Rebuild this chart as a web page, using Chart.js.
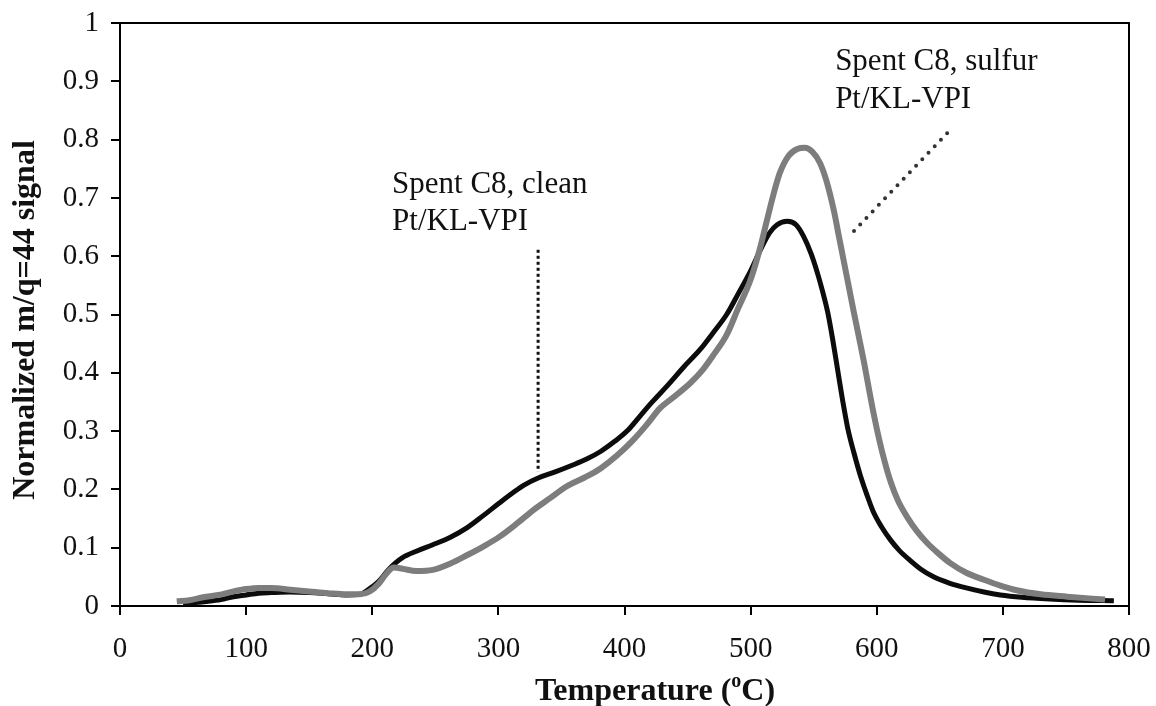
<!DOCTYPE html>
<html>
<head>
<meta charset="utf-8">
<script src="https://cdn.jsdelivr.net/npm/chart.js@4.4.1/dist/chart.umd.min.js"></script>
<style>
  html, body { margin: 0; padding: 0; background: #fff; }
</style>
</head>
<body>
<canvas id="tpoChart" width="1156" height="706"></canvas>
<script>
// tick labels
const xTickLabels = ['0', '100', '200', '300', '400', '500', '600', '700', '800'];
const yTickLabels = ['0', '0.1', '0.2', '0.3', '0.4', '0.5', '0.6', '0.7', '0.8', '0.9', '1'];

// Spent C8, clean Pt/KL-VPI (black)
const cleanTemp = [50, 60, 70, 80, 90, 100, 110, 120, 135, 150, 165, 180, 190, 198, 205, 212, 218, 224,
  235, 248, 262, 275, 288, 301, 312, 320, 332, 345, 358, 370, 381, 392, 402, 412, 422, 434, 447, 460,
  470, 481, 490, 500, 508, 515, 521, 529, 536, 542, 548, 553, 557, 561, 565, 569, 573, 577, 582, 587,
  592, 597, 604, 611, 618, 626, 635, 645, 658, 671, 685, 698, 715, 737, 760, 788];
const cleanSignal = [0.005, 0.006, 0.008, 0.011, 0.016, 0.019, 0.022, 0.023, 0.024, 0.023, 0.021, 0.019, 0.02, 0.03, 0.042, 0.06, 0.073, 0.083,
  0.094, 0.105, 0.118, 0.134, 0.155, 0.177, 0.195, 0.207, 0.22, 0.23, 0.241, 0.252, 0.265, 0.282, 0.3, 0.325, 0.35, 0.378, 0.41, 0.44,
  0.468, 0.5, 0.535, 0.575, 0.612, 0.64, 0.654, 0.66, 0.654, 0.634, 0.604, 0.571, 0.54, 0.505, 0.458, 0.405, 0.352, 0.305, 0.262, 0.224,
  0.192, 0.163, 0.135, 0.113, 0.095, 0.079, 0.063, 0.05, 0.039, 0.031, 0.024, 0.019, 0.015, 0.012, 0.01, 0.009];

// Spent C8, sulfur Pt/KL-VPI (grey)
const sulfurTemp = [45, 55, 66, 78, 90, 100, 110, 120, 135, 150, 165, 180, 190, 198, 205, 211, 217, 224,
  235, 248, 262, 275, 288, 301, 315, 328, 341, 354, 368, 381, 394, 407, 418, 428, 440, 452, 462, 471,
  481, 490, 500, 507, 513, 518, 523, 530, 537, 543, 549, 555, 560, 566, 570, 574, 578, 582, 586, 590,
  594, 598, 602, 606, 611, 617, 624, 632, 640, 649, 658, 671, 685, 698, 711, 730, 751, 781];
const sulfurSignal = [0.008, 0.01, 0.015, 0.019, 0.025, 0.029, 0.031, 0.031, 0.028, 0.025, 0.022, 0.02, 0.02, 0.025, 0.038, 0.055, 0.066, 0.064,
  0.06, 0.062, 0.073, 0.087, 0.102, 0.119, 0.142, 0.165, 0.185, 0.205, 0.22, 0.236, 0.258, 0.285, 0.312, 0.339, 0.36, 0.382, 0.405, 0.432,
  0.465, 0.51, 0.56, 0.61, 0.662, 0.705, 0.742, 0.772, 0.784, 0.786, 0.779, 0.76, 0.73, 0.678, 0.634, 0.59, 0.546, 0.502, 0.46, 0.417,
  0.37, 0.325, 0.285, 0.25, 0.213, 0.18, 0.153, 0.128, 0.108, 0.09, 0.074, 0.057, 0.045, 0.035, 0.027, 0.02, 0.016, 0.011];

// pointer lines for the two labels (data units)
const cleanPointerTemp = [331.5, 331.5];
const cleanPointerSignal = [0.611, 0.23];
const sulfurPointerTemp = [655.8, 580.5];
const sulfurPointerSignal = [0.811, 0.64];

// label text, anchored at left/baseline in data units
const labels = [
  { lines: ['Spent C8, clean', 'Pt/KL-VPI'], temp: 215.7, signal: [0.708, 0.645] },
  { lines: ['Spent C8, sulfur', 'Pt/KL-VPI'], temp: 567, signal: [0.919, 0.854] }
];

function zip(xs, ys) {
  return xs.map((x, i) => ({ x: x, y: ys[i] }));
}

const serif = '"Liberation Serif", "Times New Roman", serif';

const framePlugin = {
  id: 'frame',
  afterDatasetsDraw(chart) {
    const { ctx, chartArea: a, scales } = chart;
    ctx.save();
    ctx.strokeStyle = '#000';
    ctx.lineWidth = 2;
    ctx.beginPath();
    ctx.moveTo(a.left, a.top);
    ctx.lineTo(a.right, a.top);
    ctx.lineTo(a.right, a.bottom);
    ctx.stroke();

    // annotation text
    ctx.fillStyle = '#111';
    ctx.font = '31px ' + serif;
    ctx.textAlign = 'left';
    ctx.textBaseline = 'alphabetic';
    labels.forEach(l => {
      const x = scales.x.getPixelForValue(l.temp);
      l.lines.forEach((t, i) => ctx.fillText(t, x, scales.y.getPixelForValue(l.signal[i])));
    });

    // x title with superscript o
    ctx.font = 'bold 32px ' + serif;
    const p1 = 'Temperature (', p3 = 'C)';
    ctx.save();
    ctx.font = 'bold 20px ' + serif;
    const w2 = ctx.measureText('o').width;
    ctx.restore();
    const w1 = ctx.measureText(p1).width, w3 = ctx.measureText(p3).width;
    let x0 = 655 - (w1 + w2 + w3) / 2;
    const yb = 700;
    ctx.fillText(p1, x0, yb);
    ctx.font = 'bold 20px ' + serif;
    ctx.fillText('o', x0 + w1, yb - 13);
    ctx.font = 'bold 32px ' + serif;
    ctx.fillText(p3, x0 + w1 + w2, yb);

    // y title
    ctx.translate(26, 320);
    ctx.rotate(-Math.PI / 2);
    ctx.textAlign = 'center';
    ctx.textBaseline = 'middle';
    ctx.fillText('Normalized m/q=44 signal', 0, 0);
    ctx.restore();
  }
};

const tickFont = { family: serif, size: 29 };

new Chart(document.getElementById('tpoChart').getContext('2d'), {
  type: 'line',
  data: {
    datasets: [
      {
        label: 'Spent C8, sulfur Pt/KL-VPI',
        data: zip(sulfurTemp, sulfurSignal),
        borderColor: '#7d7d7d',
        borderWidth: 6,
        pointRadius: 0,
        cubicInterpolationMode: 'monotone',
        order: 1
      },
      {
        label: 'Spent C8, clean Pt/KL-VPI',
        data: zip(cleanTemp, cleanSignal),
        borderColor: '#0c0c0c',
        borderWidth: 5,
        pointRadius: 0,
        cubicInterpolationMode: 'monotone',
        order: 2
      },
      {
        label: 'clean pointer',
        data: zip(cleanPointerTemp, cleanPointerSignal),
        borderColor: '#111',
        borderWidth: 3,
        borderDash: [3, 3],
        pointRadius: 0,
        order: 0
      },
      {
        label: 'sulfur pointer',
        data: zip(sulfurPointerTemp, sulfurPointerSignal),
        borderColor: '#333',
        borderWidth: 4,
        borderDash: [0, 9],
        borderCapStyle: 'round',
        pointRadius: 0,
        order: 0
      }
    ]
  },
  options: {
    responsive: false,
    devicePixelRatio: 1,
    animation: false,
    layout: { padding: { top: 23, right: 27, left: 0, bottom: 0 } },
    plugins: {
      legend: { display: false },
      tooltip: { enabled: false }
    },
    scales: {
      x: {
        type: 'linear',
        min: 0,
        max: 800,
        afterFit: s => { s.height = 100; s.paddingLeft = 0; s.paddingRight = 0; },
        border: { color: '#000', width: 2 },
        grid: { drawOnChartArea: false, drawTicks: true, tickLength: 9, color: '#000', lineWidth: 2 },
        ticks: {
          stepSize: 100,
          color: '#111',
          font: tickFont,
          padding: 17,
          maxRotation: 0,
          callback: v => xTickLabels[Math.round(v / 100)]
        }
      },
      y: {
        min: 0,
        max: 1,
        afterFit: s => { s.width = 120; s.paddingTop = 0; s.paddingBottom = 0; },
        border: { color: '#000', width: 2 },
        grid: { drawOnChartArea: false, drawTicks: true, tickLength: 9, color: '#000', lineWidth: 2 },
        ticks: {
          stepSize: 0.1,
          color: '#111',
          font: tickFont,
          padding: 12,
          callback: v => yTickLabels[Math.round(v * 10)]
        }
      }
    }
  },
  plugins: [framePlugin]
});
</script>
</body>
</html>
